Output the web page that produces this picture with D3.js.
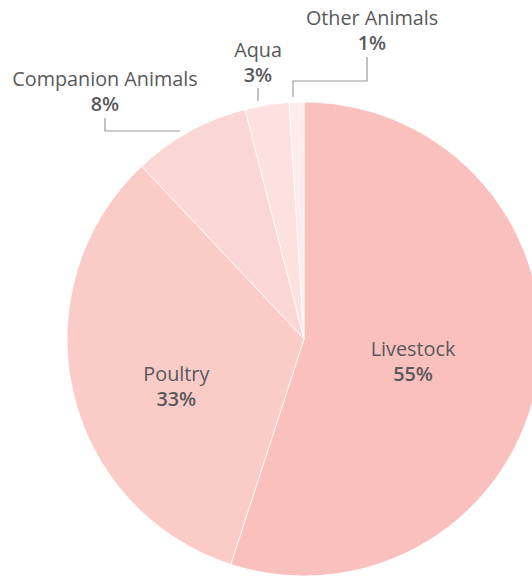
<!DOCTYPE html>
<html>
<head>
<meta charset="utf-8">
<script src="https://cdn.jsdelivr.net/npm/d3@7"></script>
<style>
  body { margin: 0; background: #fff; }
  text { font-family: "Open Sans", Lato, sans-serif; fill: #58595b; }
</style>
</head>
<body>
<svg></svg>
<script>
const [WIDTH, HEIGHT] = [532, 577]

const categories = ['Livestock', 'Poultry', 'Companion Animals', 'Aqua', 'Other Animals']
const shares = [55, 33, 8, 3, 1]
const colors = ['#f9c0bd', '#fbcbc8', '#fad7d4', '#fde1df', '#feecea']
// labels drawn outside the pie
const outside = ['Companion Animals', 'Aqua', 'Other Animals']

const state = {}

function setupSvg() {
    state['svg'] = d3.select('svg')
        .attr('viewBox', '0 0 ' + WIDTH + ' ' + HEIGHT)
        .attr('width', WIDTH)
        .attr('height', HEIGHT)
}

function main() {
    setupSvg()
    const cx = 304, cy = 339, R = 237
    const FS = '19.8px'

    const data = categories.map((c, i) => ({ name: c, value: shares[i], color: colors[i] }))
    const pie = d3.pie().sort(null).value(d => d.value)
    const arcs = pie(data)
    const arc = d3.arc().innerRadius(0).outerRadius(R)
    const labelArc = d3.arc().innerRadius(R * 0.5).outerRadius(R * 0.5)

    const g = state['svg'].append('g').attr('transform', `translate(${cx},${cy})`)

    g.selectAll('path.slice')
        .data(arcs)
        .join('path')
        .classed('slice', true)
        .attr('d', arc)
        .attr('fill', d => d.data.color)
        .attr('stroke', '#fff')
        .attr('stroke-width', 0.8)

    // inside labels, nudged a bit from the centroid
    const nudge = { 'Livestock': [-8, 0], 'Poultry': [-12, 18] }
    const inside = arcs.filter(d => !outside.includes(d.data.name))
    const inLab = g.selectAll('g.in')
        .data(inside)
        .join('g')
        .classed('in', true)
        .attr('transform', d => {
            const [x, y] = labelArc.centroid(d)
            const [nx, ny] = nudge[d.data.name]
            return `translate(${x + nx},${y + ny})`
        })
    inLab.append('text')
        .attr('text-anchor', 'middle')
        .attr('y', -2)
        .style('font-size', FS)
        .text(d => d.data.name)
    inLab.append('text')
        .attr('text-anchor', 'middle')
        .attr('y', 23)
        .style('font-size', FS)
        .style('font-weight', 600)
        .text(d => d.value + '%')

    // outside labels: label position and elbow line, relative to centre
    const outLayout = {
        'Companion Animals': { lx: -199, ly: -253, line: [[-124, -208], [-199, -208], [-199, -221]] },
        'Aqua': { lx: -46, ly: -282, line: [[-46, -238], [-46, -251]] },
        'Other Animals': { lx: 68, ly: -314, line: [[-11, -242], [-11, -258], [63, -258], [63, -282]] }
    }
    const outArcs = arcs.filter(d => outside.includes(d.data.name))
    g.selectAll('path.lead')
        .data(outArcs)
        .join('path')
        .classed('lead', true)
        .attr('d', d => d3.line()(outLayout[d.data.name].line))
        .attr('fill', 'none')
        .attr('stroke', '#9a9a9a')
        .attr('stroke-width', 1.2)

    const outLab = g.selectAll('g.out')
        .data(outArcs)
        .join('g')
        .classed('out', true)
        .attr('transform', d => `translate(${outLayout[d.data.name].lx},${outLayout[d.data.name].ly})`)
    outLab.append('text')
        .attr('text-anchor', 'middle')
        .style('font-size', FS)
        .text(d => d.data.name)
    outLab.append('text')
        .attr('text-anchor', 'middle')
        .attr('y', 25)
        .style('font-size', FS)
        .style('font-weight', 600)
        .text(d => d.value + '%')
}

main()
</script>
</body>
</html>
